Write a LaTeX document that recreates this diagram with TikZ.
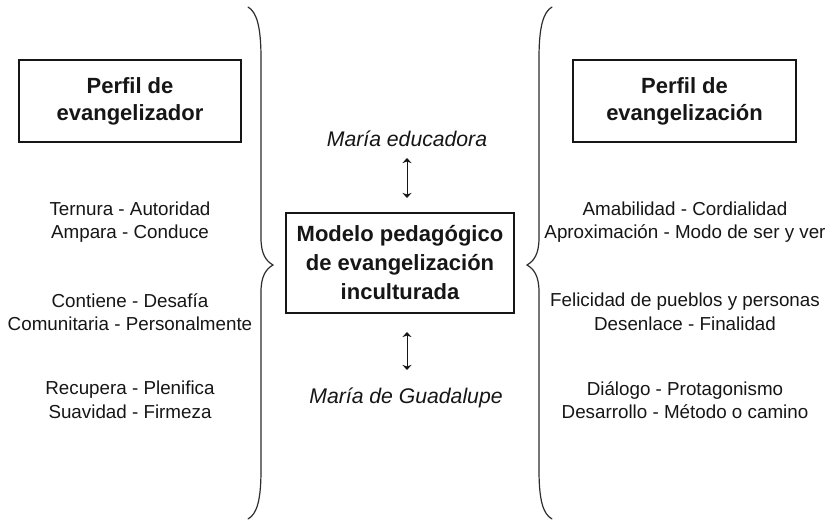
\documentclass[tikz,border=0pt]{standalone}
\usepackage{fontspec}
\setmainfont{Liberation Sans}
\usetikzlibrary{arrows.meta}
\definecolor{ink}{HTML}{161616}
\begin{document}
\begin{tikzpicture}[x=1pt,y=-1pt,
  every node/.style={text=ink, inner sep=0pt},
  plain/.style={font=\fontsize{18.8}{23.5}\selectfont, align=center},
  boxed/.style={draw=ink, line width=1.4pt, font=\bfseries\fontsize{22}{27}\selectfont, align=center},
  mary/.style={font=\itshape\fontsize{21.2}{25}\selectfont},
  bracestyle/.style={draw=ink!90, line width=1.2pt, line cap=round},
  link/.style={draw=ink, line width=1pt, {Stealth[length=5pt,width=9pt,inset=1.5pt]}-{Stealth[length=5pt,width=9pt,inset=1.5pt]}}
]
\useasboundingbox (0,0) rectangle (830,521);
\fill[white] (0,0) rectangle (830,521);

% boxes
\node[boxed, minimum width=222pt, minimum height=82pt] (pl) at (130,101) {Perfil de\\evangelizador};
\node[boxed, minimum width=223pt, minimum height=82pt] (pr) at (684.5,101) {Perfil de\\evangelización};
\node[boxed, font=\bfseries\fontsize{22}{29}\selectfont, minimum width=228pt, minimum height=100pt] (model) at (400,263) {Modelo pedagógico\\de evangelización\\inculturada};

% Maria labels
\node[mary] (edu) at (407,139) {María educadora};
\node[mary] (gua) at (406,398) {María de Guadalupe};

% arrows
\coordinate (e1) at (407,158);
\coordinate (e2) at (407,198);
\coordinate (g1) at (407,332);
\coordinate (g2) at (407,370);
\draw[link] (e1) -- (e2);
\draw[link] (g1) -- (g2);

% left texts
\node[plain] (l1) at (130,222) {Ternura - Autoridad\\Ampara - Conduce};
\node[plain] (l2) at (130,312) {Contiene - Desafía\\Comunitaria - Personalmente};
\node[plain] (l3) at (130,400) {Recupera - Plenifica\\Suavidad - Firmeza};

% right texts
\node[plain] (r1) at (685,222) {Amabilidad - Cordialidad\\Aproximación - Modo de ser y ver};
\node[plain] (r2) at (685,312) {Felicidad de pueblos y personas\\Desenlace - Finalidad};
\node[plain] (r3) at (685,400) {Diálogo - Protagonismo\\Desarrollo - Método o camino};

% braces
\draw[bracestyle] (248,7) .. controls (257,12) and (261,28) .. (261,58) -- (261,238)
  .. controls (261,254) and (266,261) .. (273,265)
  .. controls (266,269) and (261,276) .. (261,292) -- (261,470)
  .. controls (261,500) and (257,514) .. (248,519);
\draw[bracestyle] (552,7) .. controls (543,12) and (539,28) .. (539,58) -- (539,238)
  .. controls (539,254) and (534,261) .. (527,265)
  .. controls (534,269) and (539,276) .. (539,292) -- (539,470)
  .. controls (539,500) and (543,514) .. (552,519);
\end{tikzpicture}
\end{document}
